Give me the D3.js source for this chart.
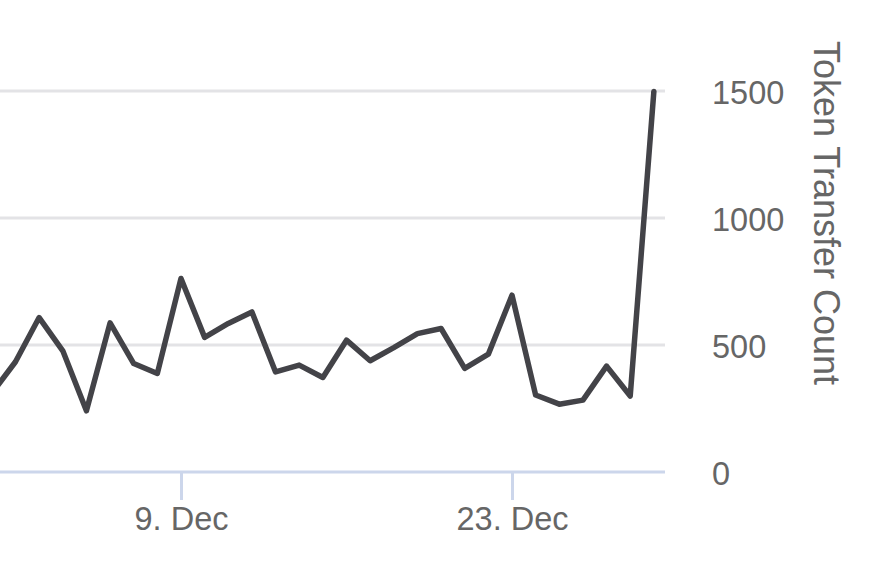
<!DOCTYPE html>
<html>
<head>
<meta charset="utf-8">
<script src="https://cdn.jsdelivr.net/npm/d3@7/dist/d3.min.js"></script>
<style>
  html, body { margin: 0; padding: 0; background: #ffffff; overflow: hidden; }
  svg { display: block; font-family: "Liberation Sans", Arial, Helvetica, sans-serif; }
</style>
</head>
<body>
<svg id="chart" width="883" height="571"></svg>
<script>
// ---- data ----
const dates = [
  "2018-12-01","2018-12-02","2018-12-03","2018-12-04","2018-12-05","2018-12-06",
  "2018-12-07","2018-12-08","2018-12-09","2018-12-10","2018-12-11","2018-12-12",
  "2018-12-13","2018-12-14","2018-12-15","2018-12-16","2018-12-17","2018-12-18",
  "2018-12-19","2018-12-20","2018-12-21","2018-12-22","2018-12-23","2018-12-24",
  "2018-12-25","2018-12-26","2018-12-27","2018-12-28","2018-12-29"
];
const transferCounts = [
  310, 434, 608, 477, 241, 587,
  427, 388, 762, 530, 585, 630,
  394, 421, 372, 519, 438, 490,
  545, 565, 408, 464, 696, 303,
  267, 283, 417, 299, 1498
];
const xTickDates = ["2018-12-09", "2018-12-23"];
const yTicks = [0, 500, 1000, 1500];
const yAxisTitle = "Token Transfer Count";

// ---- layout ----
const svg = d3.select("#chart");
const parse = d3.utcParse("%Y-%m-%d");
const data = dates.map((d, i) => ({ date: parse(d), value: transferCounts[i] }));

const plotLeft = 0, plotRight = 665, plotBottom = 472;

// x scale: anchored so 9 Dec and 23 Dec fall where the reference places them
const x = d3.scaleUtc()
  .domain([parse("2018-12-09"), parse("2018-12-23")])
  .range([181, 512]);

const y = d3.scaleLinear()
  .domain([0, 1500])
  .range([plotBottom, 91]);

// gridlines
svg.append("g")
  .selectAll("line")
  .data(yTicks.filter(v => v > 0))
  .join("line")
  .attr("x1", plotLeft).attr("x2", plotRight)
  .attr("y1", d => y(d)).attr("y2", d => y(d))
  .attr("stroke", "#e3e3e6")
  .attr("stroke-width", 3);

// x axis
const xAxis = d3.axisBottom(x)
  .tickValues(xTickDates.map(parse))
  .tickSize(28)
  .tickPadding(7)
  .tickFormat(d => `${d.getUTCDate()}. ${d3.utcFormat("%b")(d)}`);

const gx = svg.append("g")
  .attr("transform", `translate(0,${plotBottom})`)
  .call(xAxis);
gx.select(".domain").remove();
gx.selectAll(".tick line").attr("stroke", "#ccd6eb").attr("stroke-width", 3);
gx.selectAll(".tick text")
  .attr("fill", "#666666")
  .attr("font-size", "32.5px")
  .attr("font-family", "Liberation Sans, Arial, sans-serif");

svg.append("line")
  .attr("x1", plotLeft).attr("x2", plotRight)
  .attr("y1", plotBottom).attr("y2", plotBottom)
  .attr("stroke", "#ccd6eb")
  .attr("stroke-width", 3);

// y axis (right side, labels only)
const yAxis = d3.axisRight(y)
  .tickValues(yTicks)
  .tickSize(0)
  .tickPadding(0)
  .tickFormat(d3.format("d"));

const gy = svg.append("g")
  .attr("transform", `translate(712,0)`)
  .call(yAxis);
gy.select(".domain").remove();
gy.selectAll(".tick text")
  .attr("fill", "#666666")
  .attr("font-size", "32.5px")
  .attr("dy", "0.38em")
  .attr("text-anchor", "start")
  .attr("font-family", "Liberation Sans, Arial, sans-serif");

// y axis title (rotated, reading top to bottom)
svg.append("text")
  .attr("transform", `translate(814,213) rotate(90)`)
  .attr("text-anchor", "middle")
  .attr("fill", "#666666")
  .attr("font-size", "36px")
  .text(yAxisTitle);

// line
const line = d3.line()
  .x(d => x(d.date))
  .y(d => y(d.value));

svg.append("path")
  .datum(data)
  .attr("d", line)
  .attr("fill", "none")
  .attr("stroke", "#434348")
  .attr("stroke-width", 5.5)
  .attr("stroke-linejoin", "round")
  .attr("stroke-linecap", "round");
</script>
</body>
</html>
